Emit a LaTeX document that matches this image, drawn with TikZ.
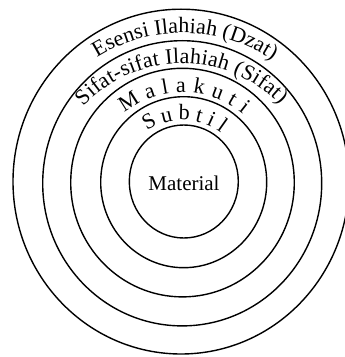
\documentclass[tikz,border=0pt]{standalone}
\usepackage{fontspec}
\setmainfont{Liberation Serif}
\usetikzlibrary{decorations.text}

\begin{document}
\begin{tikzpicture}[x=1pt,y=1pt,
    ring/.style={line width=1.4pt},
    arclabel/.style={decorate,decoration={text along path,text align=fit to path,
      text={|\fontsize{22}{25}\selectfont|#1}}}]
    \useasboundingbox (0,0) rectangle (345,357);
    \clip (0,0) rectangle (345,357);
    % rings, inner to outer
    \foreach \cx/\cy/\rx/\ry in {183.8/175.5/54.5/56.5, 183.7/174.8/83/85.5,
        182.5/174.4/111.8/114.3, 182.2/173.7/139.5/142.6, 181/175.4/168/172.4}
      \draw[ring] (\cx,\cy) ellipse[x radius=\rx,y radius=\ry];
    \node[font=\fontsize{21}{24}\selectfont] (material) at (184,174) {Material};
    % centres of the label arcs
    \coordinate (ce) at (182.5,162.5);
    \coordinate (cs) at (182.5,158);
    \coordinate (cm) at (182.5,170.5);
    \coordinate (cb) at (182.5,174.5);
    % band labels
    \path[arclabel={Esensi Ilahiah (Dzat)}] (ce) ++(122:161.5) arc[start angle=122,end angle=56.5,radius=161.5];
    \path[arclabel={Sifat-sifat Ilahiah (Sifat)}] (cs) ++(137:135.5) arc[start angle=137,end angle=44,radius=135.5];
    \path[arclabel={Malakuti}] (cm) ++(128.2:94) arc[start angle=128.2,end angle=50.1,radius=94];
    \path[arclabel={Subtil}] (cb) ++(124.7:62.5) arc[start angle=124.7,end angle=52,radius=62.5];
\end{tikzpicture}
\end{document}
